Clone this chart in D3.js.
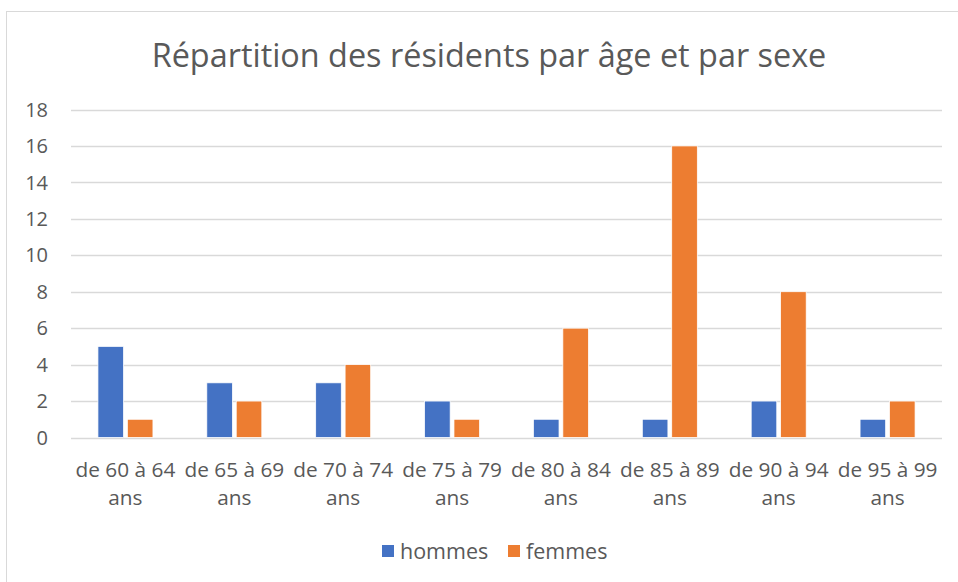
<!DOCTYPE html>
<html>
<head>
<meta charset="utf-8">
<script src="https://cdn.jsdelivr.net/npm/d3@7"></script>
<style>
  body { margin: 0; background: #fff; }
  text { font-family: "Open Sans", sans-serif; fill: #595959; }
</style>
</head>
<body>
<div class="chart"></div>
<script>
const categories = ['de 60 à 64 ans', 'de 65 à 69 ans', 'de 70 à 74 ans', 'de 75 à 79 ans',
  'de 80 à 84 ans', 'de 85 à 89 ans', 'de 90 à 94 ans', 'de 95 à 99 ans']
const hommes = [5, 3, 3, 2, 1, 1, 2, 1]
const femmes = [1, 2, 4, 1, 6, 16, 8, 2]
const seriesNames = ['hommes', 'femmes']
const yTicks = [0, 2, 4, 6, 8, 10, 12, 14, 16, 18]

const colors = {hommes: '#4472C4', femmes: '#ED7D31'}

const width = 958, height = 582
const svg = d3.select('.chart').append('svg')
  .attr('width', width)
  .attr('height', height)

// chart frame
svg.append('rect')
  .attr('x', 6.5).attr('y', 11.5)
  .attr('width', 980).attr('height', 600)
  .attr('fill', 'none')
  .attr('stroke', '#d9d9d9')

svg.append('text')
  .attr('x', 489).attr('y', 67)
  .attr('text-anchor', 'middle')
  .style('font-size', '32.4px')
  .text('Répartition des résidents par âge et par sexe')

const x = d3.scaleBand()
  .domain(categories)
  .range([71, 942])
  .paddingInner(0).paddingOuter(0)

const y = d3.scaleLinear()
  .domain([0, 18])
  .range([437.5, 109.5])

const x1 = d3.scaleBand()
  .domain(seriesNames)
  .range([0, 55])
  .paddingInner(0.13)

// gridlines
svg.append('g').selectAll('line')
  .data(yTicks)
  .enter()
  .append('line')
  .attr('x1', 71).attr('x2', 942)
  .attr('y1', d => Math.round(y(d)) + 0.5)
  .attr('y2', d => Math.round(y(d)) + 0.5)
  .attr('stroke', '#d9d9d9')
  .attr('stroke-width', 1.5)

svg.append('g').selectAll('text')
  .data(yTicks)
  .enter()
  .append('text')
  .attr('x', 48)
  .attr('y', d => y(d))
  .attr('dy', '0.36em')
  .attr('text-anchor', 'end')
  .style('font-size', '20px')
  .text(d => d)

const table = categories.map((c, i) => ({cat: c, hommes: hommes[i], femmes: femmes[i]}))

let groups = svg.append('g').selectAll('g')
  .data(table)
  .enter()
  .append('g')
  .attr('transform', d => `translate(${x(d.cat) + x.bandwidth() / 2 - 27.5},0)`)

groups.selectAll('rect')
  .data(d => seriesNames.map(k => ({key: k, value: d[k]})))
  .enter()
  .append('rect')
  .attr('x', d => x1(d.key))
  .attr('width', x1.bandwidth())
  .attr('y', d => y(d.value))
  .attr('height', d => y(0) - y(d.value))
  .attr('fill', d => colors[d.key])
  .attr('stroke', '#fff')
  .attr('stroke-width', 0.75)

// category labels, wrapped on two lines
let labels = svg.append('g').selectAll('text')
  .data(categories)
  .enter()
  .append('text')
  .attr('text-anchor', 'middle')
  .style('font-size', '20.8px')
  .attr('x', d => x(d) + x.bandwidth() / 2)
  .attr('y', 477)

labels.append('tspan')
  .attr('x', d => x(d) + x.bandwidth() / 2)
  .text(d => d.replace(/ ans$/, ''))
labels.append('tspan')
  .attr('x', d => x(d) + x.bandwidth() / 2)
  .attr('dy', 28)
  .text('ans')

// legend
const legendX = [382, 508]
let legend = svg.append('g').selectAll('g')
  .data(seriesNames)
  .enter()
  .append('g')
  .attr('transform', (d, i) => `translate(${legendX[i]},545)`)

legend.append('rect')
  .attr('width', 12).attr('height', 12)
  .attr('fill', d => colors[d])
legend.append('text')
  .attr('x', 18).attr('y', 6)
  .attr('dy', '0.36em')
  .style('font-size', '21.5px')
  .text(d => d)
</script>
</body>
</html>
